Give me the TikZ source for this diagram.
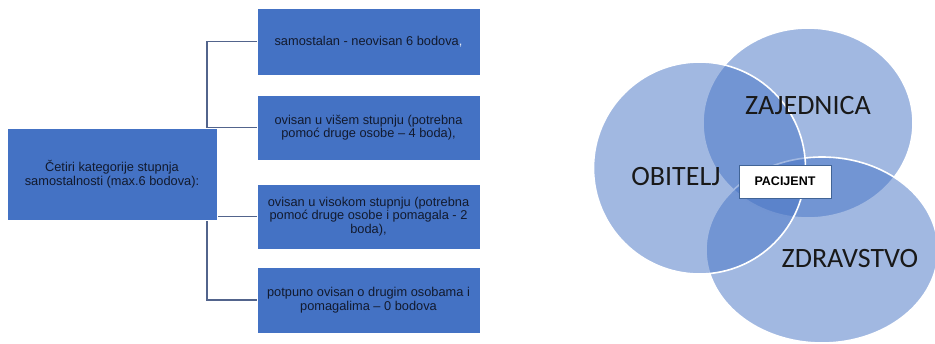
\documentclass[tikz,border=0pt]{standalone}
\usepackage{fontspec}
\setmainfont{Liberation Sans}
\newfontfamily\vennfont{Carlito}
\usetikzlibrary{backgrounds}
\definecolor{boxblue}{RGB}{68,114,196}
\definecolor{boxtext}{RGB}{18,26,46}
\definecolor{linkgray}{RGB}{82,100,140}
\definecolor{framblue}{RGB}{65,100,150}
\tikzset{
  katbox/.style={draw=white,line width=0.6pt,fill=boxblue,text=boxtext,
    minimum width=223pt,minimum height=66pt,align=center,inner sep=2pt,
    font=\fontsize{12.8}{13.5}\selectfont},
  link/.style={draw=linkgray,line width=1.9pt},
  venn/.style={fill=boxblue,fill opacity=0.5,draw=white,line width=1.6pt},
  vennlabel/.style={text=black!90,font=\vennfont\fontsize{28}{30}\selectfont}
}
\begin{document}
\begin{tikzpicture}[x=1pt,y=-1pt]
  \useasboundingbox (0,0) rectangle (935,343);
  % stupnjevi samostalnosti
  \node[katbox,minimum width=210pt,minimum height=92pt] (root) at (112,174)
    {Četiri kategorije stupnja\\samostalnosti (max.6 bodova):};
  \node[katbox,minimum height=67pt] (k1) at (368.5,41.5)
    {samostalan - neovisan 6 bodova\textcolor{white!85!boxblue}{,}};
  \node[katbox,minimum height=65pt] (k2) at (368.5,127.5)
    {ovisan u višem stupnju (potrebna\\pomoć druge osobe – 4 boda),};
  \node[katbox,minimum height=65pt] (k3) at (368.5,216.5)
    {ovisan u visokom stupnju (potrebna\\pomoć druge osobe i pomagala - 2\\boda),};
  \node[katbox] (k4) at (368.5,300)
    {potpuno ovisan o drugim osobama i\\pomagalima – 0 bodova};
  \coordinate (bus) at (207,174);
  \begin{pgfonlayer}{background}
    \draw[link] (bus) |- (k1.west);
    \draw[link] (bus) |- (k2.west);
    \draw[link] (bus) |- (k3.west);
    \draw[link] (bus) |- (k4.west);
  \end{pgfonlayer}
  % krugovi
  \filldraw[venn] (808,123) ellipse [x radius=105, y radius=95];
  \filldraw[venn] (822,250) ellipse [x radius=116, y radius=93];
  \filldraw[venn] (699.5,168) circle [radius=106];
  \node[vennlabel] (obitelj) at (676,177) {OBITELJ};
  \node[vennlabel] (zajednica) at (808,106) {ZAJEDNICA};
  \node[vennlabel] (zdravstvo) at (850,259) {ZDRAVSTVO};
  \node[draw=framblue,line width=0.8pt,fill=white,minimum width=92pt,
    minimum height=33pt,font=\bfseries\fontsize{12.5}{14}\selectfont]
    (pacijent) at (785,181.5) {PACIJENT};
\end{tikzpicture}
\end{document}
